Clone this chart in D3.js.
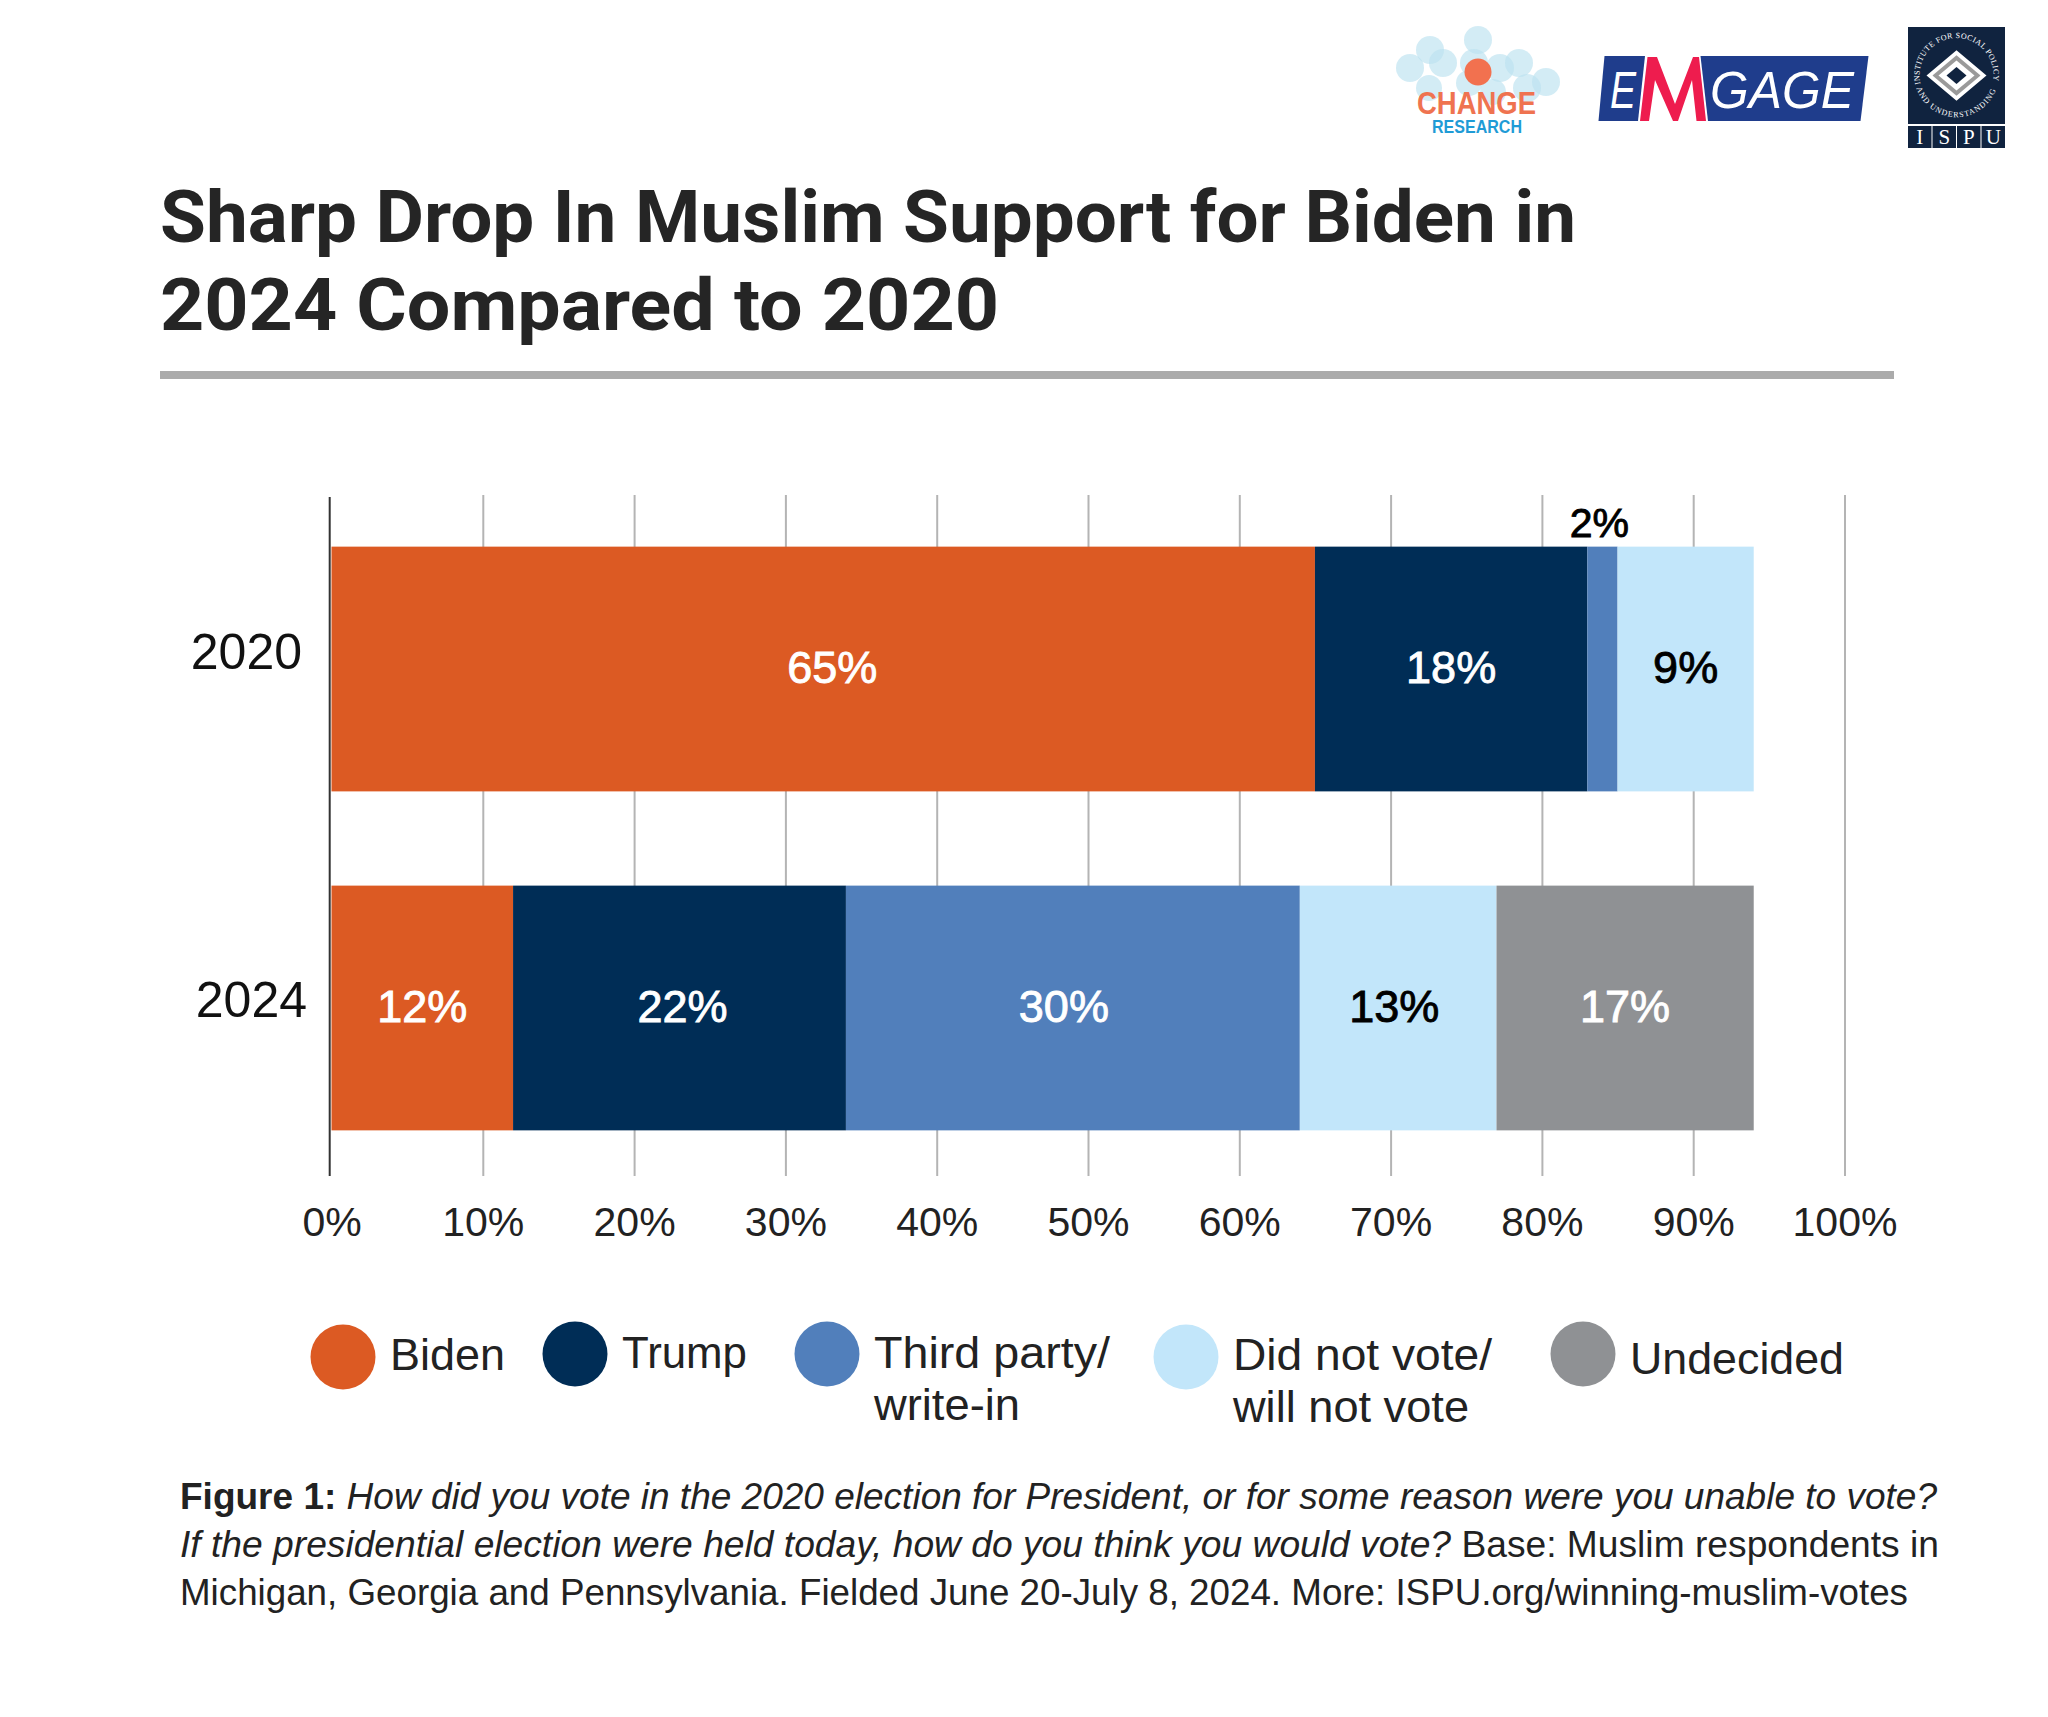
<!DOCTYPE html>
<html>
<head>
<meta charset="utf-8">
<title>Sharp Drop In Muslim Support for Biden</title>
<script src="https://cdn.jsdelivr.net/npm/d3@7"></script>
<style>
    body { margin: 0; background: #fff; }
    svg { display: block; }
    text { font-family: "Liberation Sans", sans-serif; fill: #222; }
    .title { font-family: Roboto, sans-serif; font-weight: 700; font-size: 73px; fill: #252525; }
    .axis text { font-size: 41px; fill: #222; }
    .axis .domain { display: none; }
    .x.axis line { stroke: #b4b4b4; stroke-width: 2; }
    .y.axis line { display: none; }
    .y.axis text { font-size: 50px; fill: #111; }
    .value { font-family: "Liberation Sans", sans-serif; font-size: 45px; stroke-width: 0.9; text-anchor: middle; }
    .legend text { font-size: 45px; }
    .note { font-size: 37px; }
</style>
</head>
<body>
<svg id="chart" width="2048" height="1717"></svg>
<script>
    var years = ["2020", "2024"];
    var series = ["Biden", "Trump", "Third party", "Did not vote", "Undecided"];
    var biden = [65, 12];
    var trump = [18, 22];
    var thirdParty = [2, 30];
    var didNotVote = [9, 13];
    var undecided = [0, 17];
    var colors = ["#dc5a23", "#002d56", "#517fbb", "#c2e6fa", "#8f9194"];
    var textColors = ["#fff", "#fff", "#fff", "#000", "#fff"];
    var xTicks = [0, 10, 20, 30, 40, 50, 60, 70, 80, 90, 100];

    var titleLines = ["Sharp Drop In Muslim Support for Biden in", "2024 Compared to 2020"];
    var legendLines = [["Biden"], ["Trump"], ["Third party/", "write-in"], ["Did not vote/", "will not vote"], ["Undecided"]];

    var rows = years.map(function(y, i) {
        return {year: y, "Biden": biden[i], "Trump": trump[i], "Third party": thirdParty[i],
            "Did not vote": didNotVote[i], "Undecided": undecided[i]};
    });

    var svg = d3.select("#chart");

    var x = d3.scaleLinear().domain([0, 100]).range([331.5, 1844.5]);
    var y = d3.scaleBand().domain(years).range([498.5, 1178.5]).paddingInner(0.278).paddingOuter(0.142);

    // title and rule
    svg.selectAll("text.title").data(titleLines).enter().append("text")
        .attr("class", "title")
        .attr("x", 160)
        .attr("y", function(d, i) { return 242 + i * 88; })
        .attr("textLength", function(d, i) { return i === 0 ? 1416 : 839; })
        .attr("lengthAdjust", "spacingAndGlyphs")
        .text(function(d) { return d; });

    svg.append("rect").attr("x", 160).attr("y", 371).attr("width", 1734).attr("height", 8).attr("fill", "#ababab");

    // gridlines come from the x axis ticks, so they sit under the bars
    svg.append("g")
        .attr("class", "x axis")
        .attr("transform", "translate(0,1176)")
        .call(d3.axisBottom(x).tickValues(xTicks).tickSize(-681).tickPadding(31).tickFormat(function(d) { return d + "%"; }));

    svg.select(".x.axis").selectAll(".tick").filter(function(d) { return d === 0; }).select("line").remove();

    var stacked = d3.stack().keys(series)(rows);

    var layers = svg.selectAll("g.layer").data(stacked).enter().append("g")
        .attr("class", "layer")
        .attr("fill", function(d, i) { return colors[i]; });

    layers.selectAll("rect").data(function(d) { return d; }).enter().append("rect")
        .attr("x", function(d) { return x(d[0]); })
        .attr("y", function(d) { return y(d.data.year); })
        .attr("width", function(d) { return x(d[1]) - x(d[0]); })
        .attr("height", y.bandwidth());

    svg.append("line").attr("x1", 329.7).attr("x2", 329.7).attr("y1", 497).attr("y2", 1176)
        .attr("stroke", "#333").attr("stroke-width", 2);

    // labels: the small 2% goes above the bar, a couple sit a little off centre in the original
    var nudge = {"2020-Biden": 9, "2020-Third party": -3, "2024-Third party": -9, "2024-Did not vote": -4, "2024-Trump": 3};

    stacked.forEach(function(layer, s) {
        svg.selectAll("text.v" + s).data(layer.filter(function(d) { return d[1] > d[0]; })).enter().append("text")
            .attr("class", "value v" + s)
            .attr("x", function(d) {
                return x((d[0] + d[1]) / 2) + (nudge[d.data.year + "-" + layer.key] || 0);
            })
            .attr("y", function(d) {
                if (d[1] - d[0] < 3) return y(d.data.year) - 10;
                return y(d.data.year) + y.bandwidth() / 2 + 14;
            })
            .style("font-size", function(d) { return d[1] - d[0] < 3 ? "41px" : null; })
            .style("fill", function(d) { return d[1] - d[0] < 3 ? "#000" : textColors[s]; })
            .style("stroke", function(d) { return d[1] - d[0] < 3 ? "#000" : textColors[s]; })
            .text(function(d) { return (d[1] - d[0]) + "%"; });
    });

    var yAxis = svg.append("g")
        .attr("class", "y axis")
        .attr("transform", "translate(331,0)")
        .call(d3.axisLeft(y).tickSize(0).tickPadding(29));
    yAxis.selectAll("text")
        .attr("dy", function(d) { return d === "2020" ? "0em" : "0.18em"; })
        .attr("dx", function(d) { return d === "2020" ? 0 : 5; });

    // legend
    var legendX = [343, 575, 827, 1186, 1583];
    var legendY = [1357, 1354, 1354, 1357, 1354];
    var legendTextY = [1370, 1368, 1368, 1370, 1374];
    var legendWidths = [[115], [125], [236, 146], [259, 236], [214]];

    var legend = svg.selectAll("g.legend").data(series).enter().append("g").attr("class", "legend");
    legend.append("circle")
        .attr("cx", function(d, i) { return legendX[i]; })
        .attr("cy", function(d, i) { return legendY[i]; })
        .attr("r", 32.5)
        .attr("fill", function(d, i) { return colors[i]; });
    legend.each(function(d, i) {
        d3.select(this).selectAll("text").data(legendLines[i]).enter().append("text")
            .attr("x", legendX[i] + 47)
            .attr("y", function(t, j) { return legendTextY[i] + j * 52; })
            .attr("textLength", function(t, j) { return legendWidths[i][j]; })
            .attr("lengthAdjust", "spacingAndGlyphs")
            .text(function(t) { return t; });
    });

    // footnote
    var note = [
        {w: 1757, parts: [["Figure 1:", "b"], [" How did you vote in the 2020 election for President, or for some reason were you unable to vote?", "i"]]},
        {w: 1759, parts: [["If the presidential election were held today, how do you think you would vote?", "i"], [" Base: Muslim respondents in", "r"]]},
        {w: 1728, parts: [["Michigan, Georgia and Pennsylvania. Fielded June 20-July 8, 2024. More: ISPU.org/winning-muslim-votes", "r"]]}
    ];
    note.forEach(function(line, i) {
        var t = svg.append("text").attr("class", "note").attr("x", 180).attr("y", 1509 + i * 48)
            .attr("textLength", line.w).attr("lengthAdjust", "spacingAndGlyphs");
        line.parts.forEach(function(p) {
            t.append("tspan")
                .style("font-weight", p[1] === "b" ? 700 : 400)
                .style("font-style", p[1] === "i" ? "italic" : "normal")
                .text(p[0]);
        });
    });

    // logos
    var logos = svg.append("g").attr("class", "logos");

    var bubbles = [[1410, 68, 14], [1430, 50, 14], [1443, 63, 14], [1478, 40, 14], [1474, 63, 14], [1500, 68, 14],
        [1519, 63, 14], [1546, 82, 14], [1527, 88, 14], [1429, 88, 13], [1493, 92, 13], [1469, 83, 13]];
    logos.selectAll("circle.bubble").data(bubbles).enter().append("circle")
        .attr("class", "bubble")
        .attr("cx", function(d) { return d[0]; })
        .attr("cy", function(d) { return d[1]; })
        .attr("r", function(d) { return d[2]; })
        .attr("fill", "#bce2ef").attr("opacity", 0.65);
    logos.append("circle").attr("cx", 1478).attr("cy", 72).attr("r", 13.5).attr("fill", "#f2714f");
    logos.append("text").attr("x", 1417).attr("y", 114).attr("textLength", 119).attr("lengthAdjust", "spacingAndGlyphs")
        .style("font-weight", 700).style("font-size", "31px").style("fill", "#ef7350").text("CHANGE");
    logos.append("text").attr("x", 1432).attr("y", 133).attr("textLength", 90).attr("lengthAdjust", "spacingAndGlyphs")
        .style("font-weight", 700).style("font-size", "18px").style("fill", "#1f9bd6").text("RESEARCH");

    var poly = function(g, pts, fill) {
        g.append("polygon").attr("fill", fill).attr("points", pts.map(function(p) { return p.join(","); }).join(" "));
    };
    poly(logos, [[1604.5, 56], [1645, 56], [1638, 121], [1598.5, 121]], "#1f3d8c");
    poly(logos, [[1700.5, 56], [1868.5, 56], [1860.5, 121], [1708, 121]], "#1f3d8c");
    poly(logos, [[1640, 121], [1647.5, 57], [1657, 57], [1675, 104], [1693, 57], [1699, 57], [1706, 121], [1696.5, 121],
        [1692, 80], [1678, 121], [1673, 121], [1655, 80], [1649, 121]], "#ee1c4e");
    logos.append("text").attr("x", 1610).attr("y", 108).attr("textLength", 26).attr("lengthAdjust", "spacingAndGlyphs")
        .style("font-size", "52px").style("font-style", "italic").style("fill", "#fff").text("E");
    logos.append("text").attr("x", 1710).attr("y", 108).attr("textLength", 144).attr("lengthAdjust", "spacingAndGlyphs")
        .style("font-size", "52px").style("font-style", "italic").style("fill", "#fff").text("GAGE");

    var navy = "#10233f";
    logos.append("rect").attr("x", 1908).attr("y", 27).attr("width", 97).attr("height", 97).attr("fill", navy);
    [[30, "#fff"], [24, "#9a9a9a"], [18, "#fff"], [10, navy]].forEach(function(d) {
        var w = d[0], h = d[0] * 0.84;
        poly(logos, [[1956.5, 75.5 - h], [1956.5 + w, 75.5], [1956.5, 75.5 + h], [1956.5 - w, 75.5]], d[1]);
    });
    var defs = svg.append("defs");
    defs.append("path").attr("id", "arcTop").attr("d", "M1920.6 84 A37 37 0 1 1 1992.4 84");
    defs.append("path").attr("id", "arcBottom").attr("d", "M1916.5 88 A42 42 0 0 0 1996.5 88");
    [["arcTop", "INSTITUTE FOR SOCIAL POLICY", "0.4px"], ["arcBottom", "AND UNDERSTANDING", "1px"]].forEach(function(d) {
        logos.append("text")
            .style("font-family", "'Liberation Serif', serif").style("font-size", "8px")
            .style("letter-spacing", d[2]).style("fill", "#fff")
            .append("textPath").attr("href", "#" + d[0]).text(d[1]);
    });
    ["I", "S", "P", "U"].forEach(function(c, i) {
        var bx = 1908 + i * 24.5;
        logos.append("rect").attr("x", bx).attr("y", 126).attr("width", 23.5).attr("height", 22).attr("fill", navy);
        logos.append("text").attr("x", bx + 11.75).attr("y", 144).attr("text-anchor", "middle")
            .style("font-family", "'Liberation Serif', serif").style("font-size", "21px").style("fill", "#fff").text(c);
    });
</script>
</body>
</html>
